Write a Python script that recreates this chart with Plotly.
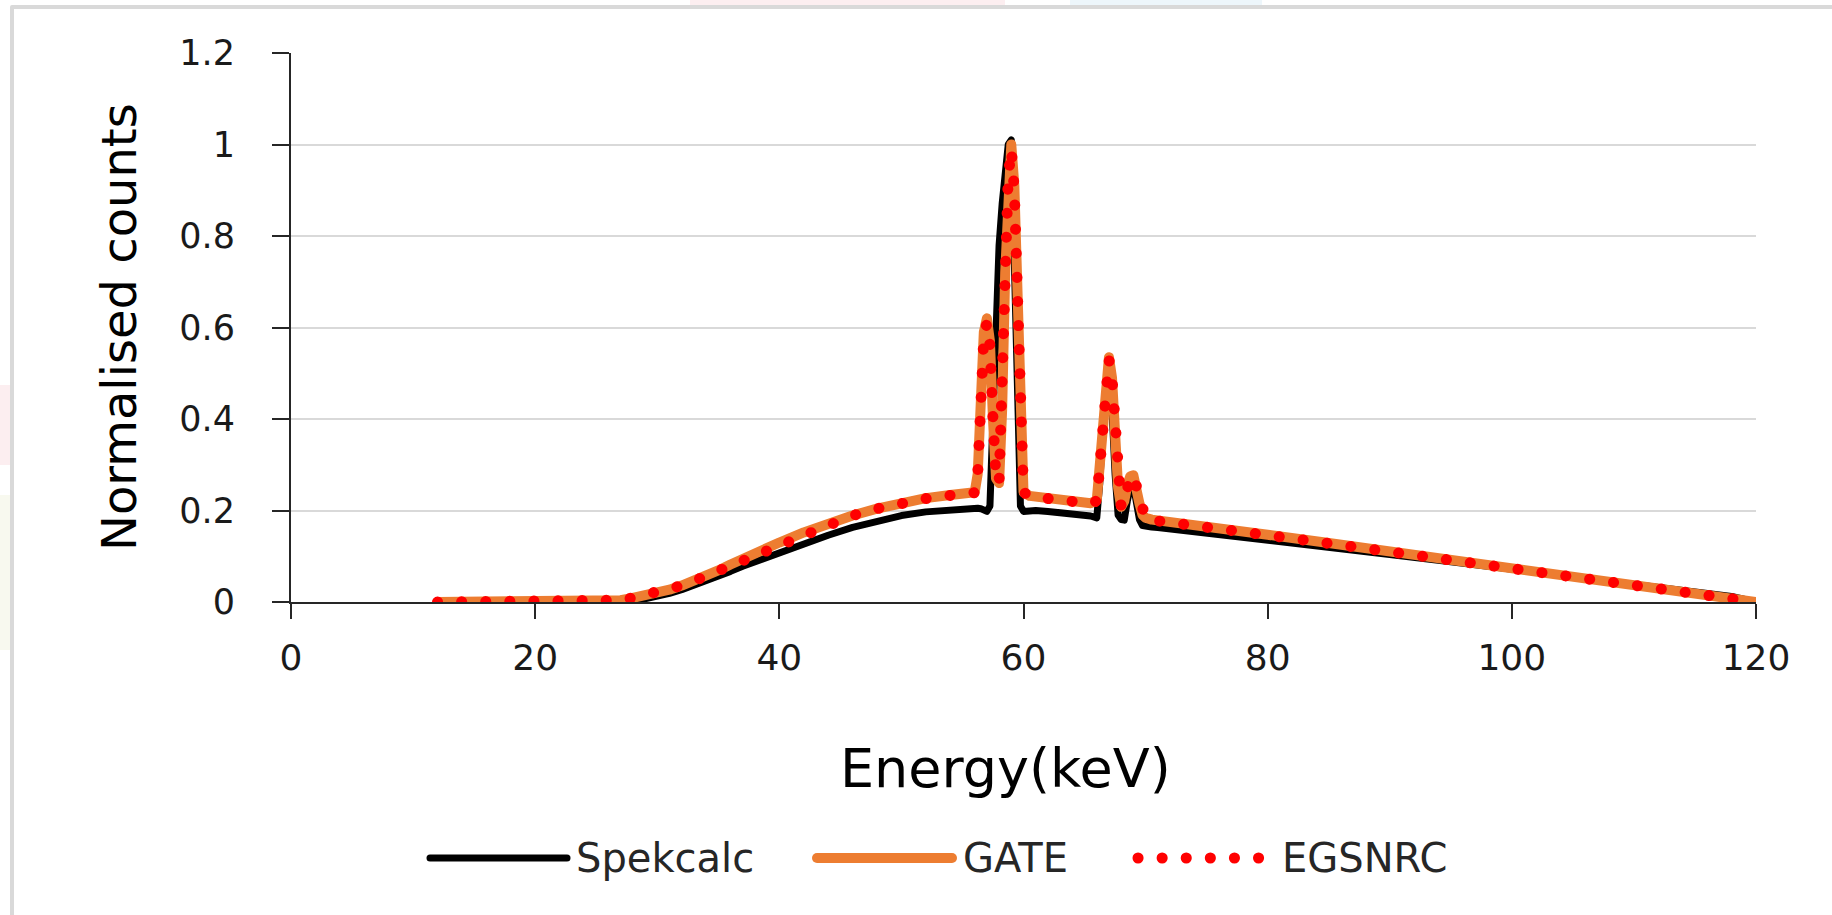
import plotly.graph_objects as go

# ---------------- data ----------------
energy_kev = [12, 14, 16, 18, 20, 22, 24, 26, 27, 28, 29, 30, 31, 32, 33, 34, 35, 36, 37, 38,
              40, 42, 44, 46, 48, 50, 52, 54, 55, 56, 56.25, 56.5, 56.75, 57, 57.25, 57.5,
              57.75, 58, 58.25, 58.5, 58.75, 59, 59.25, 59.5, 59.75, 60, 60.5, 61, 62, 63,
              64, 65, 65.5, 66, 66.25, 66.5, 66.75, 67, 67.25, 67.5, 67.75, 68, 68.25, 68.5,
              68.75, 69, 69.25, 69.5, 69.75, 70, 70.5, 71, 72, 74, 76, 78, 80, 85, 90, 95,
              100, 105, 110, 112, 114, 116, 117, 118, 119, 120]

spekcalc = [0, 0, 0, 0, 0, 0, 0, 0, 0.001, 0.003, 0.007, 0.012, 0.019, 0.027, 0.036, 0.046,
            0.056, 0.067, 0.078, 0.088, 0.108, 0.128, 0.146, 0.163, 0.177, 0.189, 0.197,
            0.202, 0.204, 0.205, 0.205, 0.204, 0.200, 0.198, 0.21, 0.40, 0.62, 0.78, 0.87,
            0.94, 1.0, 1.01, 0.75, 0.42, 0.21, 0.198, 0.200, 0.200, 0.198, 0.196, 0.194,
            0.191, 0.188, 0.184, 0.26, 0.38, 0.47, 0.50, 0.42, 0.28, 0.19, 0.180, 0.179,
            0.22, 0.25, 0.255, 0.22, 0.18, 0.167, 0.165, 0.164, 0.163, 0.160, 0.155, 0.149,
            0.143, 0.137, 0.121, 0.104, 0.088, 0.072, 0.056, 0.040, 0.034, 0.027, 0.020,
            0.016, 0.012, 0.006, 0.0]

gate = [0, 0, 0, 0, 0, 0, 0.001, 0.002, 0.004, 0.009, 0.014, 0.020, 0.027, 0.036, 0.046,
        0.057, 0.069, 0.082, 0.095, 0.107, 0.130, 0.152, 0.172, 0.189, 0.204, 0.217, 0.227,
        0.234, 0.237, 0.240, 0.28, 0.45, 0.59, 0.62, 0.57, 0.40, 0.27, 0.26, 0.42, 0.72,
        0.94, 1.0, 0.91, 0.62, 0.33, 0.24, 0.232, 0.230, 0.228, 0.226, 0.223, 0.219, 0.216,
        0.222, 0.30, 0.44, 0.52, 0.535, 0.49, 0.36, 0.25, 0.208, 0.22, 0.255, 0.275, 0.277,
        0.255, 0.215, 0.19, 0.184, 0.180, 0.178, 0.175, 0.168, 0.161, 0.154, 0.147, 0.129,
        0.110, 0.091, 0.072, 0.054, 0.035, 0.028, 0.020, 0.013, 0.010, 0.006, 0.003, 0.0]

egsnrc = [0, 0, 0, 0, 0, 0, 0.001, 0.002, 0.004, 0.009, 0.015, 0.021, 0.028, 0.036, 0.046,
          0.057, 0.069, 0.081, 0.094, 0.106, 0.129, 0.151, 0.171, 0.189, 0.204, 0.216, 0.226,
          0.233, 0.236, 0.239, 0.28, 0.44, 0.58, 0.61, 0.56, 0.40, 0.27, 0.26, 0.42, 0.71,
          0.93, 0.99, 0.90, 0.62, 0.33, 0.24, 0.231, 0.229, 0.227, 0.225, 0.222, 0.218,
          0.215, 0.221, 0.30, 0.44, 0.52, 0.53, 0.49, 0.36, 0.25, 0.207, 0.22, 0.255, 0.274,
          0.276, 0.254, 0.214, 0.19, 0.183, 0.179, 0.177, 0.174, 0.167, 0.160, 0.153, 0.146,
          0.128, 0.109, 0.090, 0.071, 0.053, 0.034, 0.027, 0.019, 0.012, 0.009, 0.005,
          0.002, 0.0]

x_ticks = [0, 20, 40, 60, 80, 100, 120]
y_ticks = [0, 0.2, 0.4, 0.6, 0.8, 1.0, 1.2]
series_names = ["Spekcalc", "GATE", "EGSNRC"]
series_colors = ["#000000", "#ED7D31", "#FF0000"]

# ---------------- layout geometry ----------------
W, H = 1832, 915
ML, MR, MT, MB = 291, 76, 53, 313
PW, PH = W - ML - MR, H - MT - MB


def px2x(px):
    return (px - ML) / PW


def py2y(py):
    return (H - MB - py) / PH


FONT = "DejaVu Sans"

fig = go.Figure()
fig.add_trace(go.Scatter(x=energy_kev, y=spekcalc, mode="lines", name=series_names[0],
                         line=dict(color=series_colors[0], width=7)))
fig.add_trace(go.Scatter(x=energy_kev, y=gate, mode="lines", name=series_names[1],
                         line=dict(color=series_colors[1], width=10)))
fig.add_trace(go.Scatter(x=energy_kev, y=egsnrc, mode="lines", name=series_names[2],
                         line=dict(color=series_colors[2], width=11, dash="dot")))

shapes = []
annotations = []

# outer light-gray frame of the original picture
shapes.append(dict(type="rect", xref="paper", yref="paper",
                   x0=px2x(12), x1=px2x(1900), y0=py2y(7), y1=py2y(1000),
                   line=dict(color="#D9D9D9", width=4), fillcolor="rgba(0,0,0,0)",
                   layer="below"))
# faint watermark tints at the picture edges
shapes.append(dict(type="rect", xref="paper", yref="paper", x0=px2x(690), x1=px2x(1005),
                   y0=py2y(0), y1=py2y(5), line=dict(width=0), fillcolor="#FCEEF0", layer="below"))
shapes.append(dict(type="rect", xref="paper", yref="paper", x0=px2x(1070), x1=px2x(1262),
                   y0=py2y(0), y1=py2y(5), line=dict(width=0), fillcolor="#EDF6FB", layer="below"))
shapes.append(dict(type="rect", xref="paper", yref="paper", x0=px2x(0), x1=px2x(10),
                   y0=py2y(385), y1=py2y(465), line=dict(width=0), fillcolor="#FCEEF0", layer="below"))
shapes.append(dict(type="rect", xref="paper", yref="paper", x0=px2x(0), x1=px2x(10),
                   y0=py2y(495), y1=py2y(650), line=dict(width=0), fillcolor="#F8F9EF", layer="below"))

# custom legend (long line samples as in the original)
legend_y = py2y(858)
legend_items = [
    (430, 567, 574, 7, "solid"),
    (817, 952, 961, 10, "solid"),
    (1138, 1268, 1280, 11, "dot"),
]
for (x0, x1, tx, w, dash), name, col in zip(legend_items, series_names, series_colors):
    shapes.append(dict(type="line", xref="paper", yref="paper", x0=px2x(x0), x1=px2x(x1),
                       y0=legend_y, y1=legend_y, line=dict(color=col, width=w, dash=dash)))
    annotations.append(dict(text=name, xref="paper", yref="paper", x=px2x(tx), y=legend_y,
                            xanchor="left", yanchor="middle", showarrow=False,
                            font=dict(family=FONT, size=40, color="#262626")))

# axis titles
annotations.append(dict(text="Energy(keV)", xref="paper", yref="paper", x=px2x(1005),
                        y=py2y(768), xanchor="center", yanchor="middle", showarrow=False,
                        font=dict(family=FONT, size=54, color="#000000")))
annotations.append(dict(text="Normalised counts", xref="paper", yref="paper", x=px2x(119),
                        y=py2y(327), xanchor="center", yanchor="middle", showarrow=False,
                        textangle=-90, font=dict(family=FONT, size=48, color="#000000")))

fig.update_layout(
    width=W, height=H,
    margin=dict(l=ML, r=MR, t=MT, b=MB, pad=0),
    paper_bgcolor="white", plot_bgcolor="white",
    showlegend=False,
    shapes=shapes, annotations=annotations,
    xaxis=dict(range=[0, 120], tickvals=x_ticks, ticktext=[str(v) for v in x_ticks],
               showgrid=False, zeroline=False, showline=True, linecolor="#262626",
               linewidth=2, ticks="outside", ticklen=15, tickwidth=2, tickcolor="#262626",
               ticklabelstandoff=8,
               tickfont=dict(family=FONT, size=36, color="#1A1A1A")),
    yaxis=dict(range=[0, 1.2], tickvals=y_ticks,
               ticktext=["0", "0.2", "0.4", "0.6", "0.8", "1", "1.2"],
               showgrid=True, gridcolor="#D9D9D9", gridwidth=2, zeroline=False,
               showline=True, linecolor="#262626", linewidth=2, ticks="outside",
               ticklen=17, tickwidth=2, tickcolor="#262626", ticklabelstandoff=30,
               tickfont=dict(family=FONT, size=35, color="#1A1A1A")),
)

post_js = """
document.body.style.margin = '0';
document.body.style.overflow = 'hidden';
var gd = document.getElementById('{plot_id}');
function roundCaps(){
  var paths = gd.querySelectorAll('.scatterlayer path.js-line, .shapelayer path');
  paths.forEach(function(p){
    p.style.strokeLinecap = 'round';
    p.style.strokeLinejoin = 'round';
    if ((p.style.stroke || '').replace(/\\s/g,'') === 'rgb(255,0,0)') {
      p.style.strokeDasharray = '0.1px,24px';
    }
  });
}
roundCaps();
"""

fig.write_html("out.html", post_script=post_js, config={"displayModeBar": False})
